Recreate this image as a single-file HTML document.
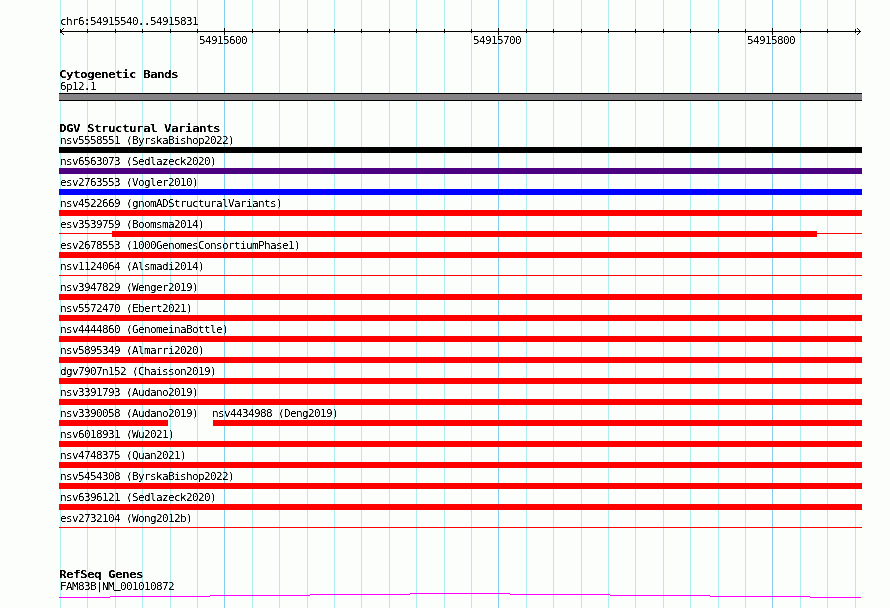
<!DOCTYPE html>
<html><head><meta charset="utf-8"><style>
html,body{margin:0;padding:0;background:#fcfefc;width:890px;height:608px;overflow:hidden;position:relative}
.r{position:absolute}
.t,.b{position:absolute;white-space:pre;color:#000;line-height:12px;font-family:"DejaVu Sans Mono","Liberation Mono",monospace;will-change:transform;background:#fff;mix-blend-mode:multiply;filter:grayscale(1) contrast(2.5)}
.t{font-size:10px;letter-spacing:-0.566px;transform:scaleX(1.1);transform-origin:0 0}
.b{font-size:11px;font-weight:bold;letter-spacing:-0.5356px;transform:scaleX(1.15);transform-origin:0 0}
</style></head><body>
<div class="r" style="left:60px;top:0px;width:1px;height:608px;background:#afeeee"></div>
<div class="r" style="left:87px;top:0px;width:1px;height:608px;background:#afeeee"></div>
<div class="r" style="left:115px;top:0px;width:1px;height:608px;background:#afeeee"></div>
<div class="r" style="left:142px;top:0px;width:1px;height:608px;background:#afeeee"></div>
<div class="r" style="left:170px;top:0px;width:1px;height:608px;background:#afeeee"></div>
<div class="r" style="left:197px;top:0px;width:1px;height:608px;background:#afeeee"></div>
<div class="r" style="left:224px;top:0px;width:1px;height:608px;background:#87ceeb"></div>
<div class="r" style="left:252px;top:0px;width:1px;height:608px;background:#afeeee"></div>
<div class="r" style="left:279px;top:0px;width:1px;height:608px;background:#afeeee"></div>
<div class="r" style="left:307px;top:0px;width:1px;height:608px;background:#afeeee"></div>
<div class="r" style="left:334px;top:0px;width:1px;height:608px;background:#afeeee"></div>
<div class="r" style="left:361px;top:0px;width:1px;height:608px;background:#afeeee"></div>
<div class="r" style="left:389px;top:0px;width:1px;height:608px;background:#afeeee"></div>
<div class="r" style="left:416px;top:0px;width:1px;height:608px;background:#afeeee"></div>
<div class="r" style="left:444px;top:0px;width:1px;height:608px;background:#afeeee"></div>
<div class="r" style="left:471px;top:0px;width:1px;height:608px;background:#afeeee"></div>
<div class="r" style="left:498px;top:0px;width:1px;height:608px;background:#87ceeb"></div>
<div class="r" style="left:526px;top:0px;width:1px;height:608px;background:#afeeee"></div>
<div class="r" style="left:553px;top:0px;width:1px;height:608px;background:#afeeee"></div>
<div class="r" style="left:581px;top:0px;width:1px;height:608px;background:#afeeee"></div>
<div class="r" style="left:608px;top:0px;width:1px;height:608px;background:#afeeee"></div>
<div class="r" style="left:635px;top:0px;width:1px;height:608px;background:#afeeee"></div>
<div class="r" style="left:663px;top:0px;width:1px;height:608px;background:#afeeee"></div>
<div class="r" style="left:690px;top:0px;width:1px;height:608px;background:#afeeee"></div>
<div class="r" style="left:718px;top:0px;width:1px;height:608px;background:#afeeee"></div>
<div class="r" style="left:745px;top:0px;width:1px;height:608px;background:#afeeee"></div>
<div class="r" style="left:772px;top:0px;width:1px;height:608px;background:#87ceeb"></div>
<div class="r" style="left:800px;top:0px;width:1px;height:608px;background:#afeeee"></div>
<div class="r" style="left:827px;top:0px;width:1px;height:608px;background:#afeeee"></div>
<div class="r" style="left:855px;top:0px;width:1px;height:608px;background:#afeeee"></div>
<div class="t" style="left:60px;top:16px">chr6<b>:</b>54915540<b>..</b>54915831</div>
<div class="r" style="left:60px;top:31px;width:801px;height:1px;background:#000"></div>
<div class="r" style="left:60px;top:29px;width:1px;height:4px;background:#000"></div>
<div class="r" style="left:87px;top:29px;width:1px;height:4px;background:#000"></div>
<div class="r" style="left:115px;top:29px;width:1px;height:4px;background:#000"></div>
<div class="r" style="left:142px;top:29px;width:1px;height:4px;background:#000"></div>
<div class="r" style="left:170px;top:29px;width:1px;height:4px;background:#000"></div>
<div class="r" style="left:197px;top:29px;width:1px;height:4px;background:#000"></div>
<div class="r" style="left:224px;top:28px;width:1px;height:7px;background:#000"></div>
<div class="t" style="left:199px;top:35px">54915600</div>
<div class="r" style="left:252px;top:29px;width:1px;height:4px;background:#000"></div>
<div class="r" style="left:279px;top:29px;width:1px;height:4px;background:#000"></div>
<div class="r" style="left:307px;top:29px;width:1px;height:4px;background:#000"></div>
<div class="r" style="left:334px;top:29px;width:1px;height:4px;background:#000"></div>
<div class="r" style="left:361px;top:29px;width:1px;height:4px;background:#000"></div>
<div class="r" style="left:389px;top:29px;width:1px;height:4px;background:#000"></div>
<div class="r" style="left:416px;top:29px;width:1px;height:4px;background:#000"></div>
<div class="r" style="left:444px;top:29px;width:1px;height:4px;background:#000"></div>
<div class="r" style="left:471px;top:29px;width:1px;height:4px;background:#000"></div>
<div class="r" style="left:498px;top:28px;width:1px;height:7px;background:#000"></div>
<div class="t" style="left:473px;top:35px">54915700</div>
<div class="r" style="left:526px;top:29px;width:1px;height:4px;background:#000"></div>
<div class="r" style="left:553px;top:29px;width:1px;height:4px;background:#000"></div>
<div class="r" style="left:581px;top:29px;width:1px;height:4px;background:#000"></div>
<div class="r" style="left:608px;top:29px;width:1px;height:4px;background:#000"></div>
<div class="r" style="left:635px;top:29px;width:1px;height:4px;background:#000"></div>
<div class="r" style="left:663px;top:29px;width:1px;height:4px;background:#000"></div>
<div class="r" style="left:690px;top:29px;width:1px;height:4px;background:#000"></div>
<div class="r" style="left:718px;top:29px;width:1px;height:4px;background:#000"></div>
<div class="r" style="left:745px;top:29px;width:1px;height:4px;background:#000"></div>
<div class="r" style="left:772px;top:28px;width:1px;height:7px;background:#000"></div>
<div class="t" style="left:747px;top:35px">54915800</div>
<div class="r" style="left:800px;top:29px;width:1px;height:4px;background:#000"></div>
<div class="r" style="left:827px;top:29px;width:1px;height:4px;background:#000"></div>
<div class="r" style="left:855px;top:29px;width:1px;height:4px;background:#000"></div>
<div class="r" style="left:61px;top:30px;width:1px;height:1px;background:#000"></div>
<div class="r" style="left:61px;top:32px;width:1px;height:1px;background:#000"></div>
<div class="r" style="left:859px;top:30px;width:1px;height:1px;background:#000"></div>
<div class="r" style="left:859px;top:32px;width:1px;height:1px;background:#000"></div>
<div class="r" style="left:62px;top:29px;width:1px;height:1px;background:#000"></div>
<div class="r" style="left:62px;top:33px;width:1px;height:1px;background:#000"></div>
<div class="r" style="left:858px;top:29px;width:1px;height:1px;background:#000"></div>
<div class="r" style="left:858px;top:33px;width:1px;height:1px;background:#000"></div>
<div class="r" style="left:63px;top:28px;width:1px;height:1px;background:#000"></div>
<div class="r" style="left:63px;top:34px;width:1px;height:1px;background:#000"></div>
<div class="r" style="left:857px;top:28px;width:1px;height:1px;background:#000"></div>
<div class="r" style="left:857px;top:34px;width:1px;height:1px;background:#000"></div>
<div class="b" style="left:59px;top:69px">Cytogenetic Bands</div>
<div class="t" style="left:60px;top:81px">6p12<b>.</b>1</div>
<div class="r" style="left:59px;top:93px;width:803px;height:8px;background:#000"></div>
<div class="r" style="left:59px;top:94px;width:803px;height:6px;background:#858385"></div>
<div class="b" style="left:59px;top:123px">DGV Structural Variants</div>
<div class="t" style="left:60px;top:135px">nsv5558551 (ByrskaBishop2022)</div>
<div class="r" style="left:59px;top:147px;width:803px;height:6px;background:#000"></div>
<div class="t" style="left:60px;top:156px">nsv6563073 (Sedlazeck2020)</div>
<div class="r" style="left:59px;top:168px;width:803px;height:6px;background:#4b0082"></div>
<div class="t" style="left:60px;top:177px">esv2763553 (Vogler2010)</div>
<div class="r" style="left:59px;top:189px;width:803px;height:6px;background:#0000ff"></div>
<div class="t" style="left:60px;top:198px">nsv4522669 (gnomADStructuralVariants)</div>
<div class="r" style="left:59px;top:210px;width:803px;height:6px;background:#ff0000"></div>
<div class="t" style="left:60px;top:219px">esv3539759 (Boomsma2014)</div>
<div class="r" style="left:59px;top:233px;width:53px;height:1px;background:#ff0000"></div>
<div class="r" style="left:112px;top:231px;width:705px;height:6px;background:#ff0000"></div>
<div class="r" style="left:817px;top:233px;width:45px;height:1px;background:#ff0000"></div>
<div class="t" style="left:60px;top:240px">esv2678553 (1000GenomesConsortiumPhase1)</div>
<div class="r" style="left:59px;top:252px;width:803px;height:6px;background:#ff0000"></div>
<div class="t" style="left:60px;top:261px">nsv1124064 (Alsmadi2014)</div>
<div class="r" style="left:59px;top:275px;width:803px;height:1px;background:#ff0000"></div>
<div class="t" style="left:60px;top:282px">nsv3947829 (Wenger2019)</div>
<div class="r" style="left:59px;top:294px;width:803px;height:6px;background:#ff0000"></div>
<div class="t" style="left:60px;top:303px">nsv5572470 (Ebert2021)</div>
<div class="r" style="left:59px;top:315px;width:803px;height:6px;background:#ff0000"></div>
<div class="t" style="left:60px;top:324px">nsv4444860 (GenomeinaBottle)</div>
<div class="r" style="left:59px;top:336px;width:803px;height:6px;background:#ff0000"></div>
<div class="t" style="left:60px;top:345px">nsv5895349 (Almarri2020)</div>
<div class="r" style="left:59px;top:357px;width:803px;height:6px;background:#ff0000"></div>
<div class="t" style="left:60px;top:366px">dgv7907n152 (Chaisson2019)</div>
<div class="r" style="left:59px;top:378px;width:803px;height:6px;background:#ff0000"></div>
<div class="t" style="left:60px;top:387px">nsv3391793 (Audano2019)</div>
<div class="r" style="left:59px;top:399px;width:803px;height:6px;background:#ff0000"></div>
<div class="t" style="left:60px;top:408px">nsv3390058 (Audano2019)</div>
<div class="r" style="left:59px;top:420px;width:109px;height:6px;background:#ff0000"></div>
<div class="r" style="left:213px;top:420px;width:649px;height:6px;background:#ff0000"></div>
<div class="t" style="left:212px;top:408px">nsv4434988 (Deng2019)</div>
<div class="t" style="left:60px;top:429px">nsv6018931 (Wu2021)</div>
<div class="r" style="left:59px;top:441px;width:803px;height:6px;background:#ff0000"></div>
<div class="t" style="left:60px;top:450px">nsv4748375 (Quan2021)</div>
<div class="r" style="left:59px;top:462px;width:803px;height:6px;background:#ff0000"></div>
<div class="t" style="left:60px;top:471px">nsv5454308 (ByrskaBishop2022)</div>
<div class="r" style="left:59px;top:483px;width:803px;height:6px;background:#ff0000"></div>
<div class="t" style="left:60px;top:492px">nsv6396121 (Sedlazeck2020)</div>
<div class="r" style="left:59px;top:504px;width:803px;height:6px;background:#ff0000"></div>
<div class="t" style="left:60px;top:513px">esv2732104 (Wong2012b)</div>
<div class="r" style="left:59px;top:527px;width:803px;height:1px;background:#ff0000"></div>
<div class="b" style="left:59px;top:569px">RefSeq Genes</div>
<div class="t" style="left:60px;top:581px">FAM83B|NM<b style="position:relative;top:-2px">_</b>001010872</div>
<div class="r" style="left:59px;top:597px;width:51px;height:1px;background:#ff00ff"></div>
<div class="r" style="left:110px;top:596px;width:100px;height:1px;background:#ff00ff"></div>
<div class="r" style="left:210px;top:595px;width:100px;height:1px;background:#ff00ff"></div>
<div class="r" style="left:310px;top:594px;width:100px;height:1px;background:#ff00ff"></div>
<div class="r" style="left:410px;top:593px;width:100px;height:1px;background:#ff00ff"></div>
<div class="r" style="left:510px;top:594px;width:100px;height:1px;background:#ff00ff"></div>
<div class="r" style="left:610px;top:595px;width:100px;height:1px;background:#ff00ff"></div>
<div class="r" style="left:710px;top:596px;width:100px;height:1px;background:#ff00ff"></div>
<div class="r" style="left:810px;top:597px;width:51px;height:1px;background:#ff00ff"></div>
</body></html>
